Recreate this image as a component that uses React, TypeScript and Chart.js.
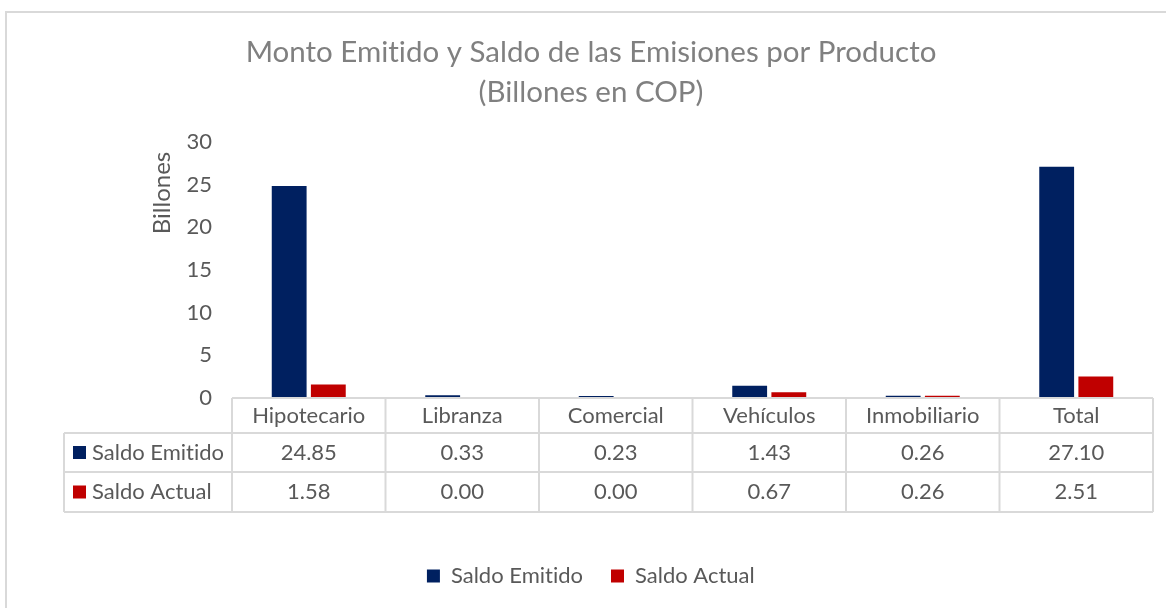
import React, { useEffect, useRef } from "react";
import { Chart, registerables } from "chart.js";

Chart.register(...registerables);

const categories = ["Hipotecario", "Libranza", "Comercial", "Vehículos", "Inmobiliario", "Total"];
const saldoEmitido = [24.85, 0.33, 0.23, 1.43, 0.26, 27.1];
const saldoActual = [1.58, 0.0, 0.0, 0.67, 0.26, 2.51];
const seriesNames = ["Saldo Emitido", "Saldo Actual"];
const seriesColors = ["#002060", "#C00000"];
const titleLines = ["Monto Emitido y Saldo de las Emisiones por Producto", "(Billones en COP)"];
const yAxisTitle = "Billones";

const FONT = "Lato, 'Open Sans', sans-serif";
const TEXT = "#595959";
const GRID = "#d9d9d9";
const FS = 22;

const bgPlugin = {
  id: "bg",
  beforeDraw(chart: any) {
    const { ctx, width, height } = chart;
    try {
      (ctx as any).textRendering = "optimizeSpeed";
    } catch (e) {}
    ctx.save();
    ctx.fillStyle = "#ffffff";
    ctx.fillRect(0, 0, width, height);
    ctx.strokeStyle = GRID;
    ctx.lineWidth = 2;
    ctx.strokeRect(6, 12, width + 20, height + 20);
    ctx.restore();
  },
};

const yTitlePlugin = {
  id: "yTitle",
  afterDraw(chart: any) {
    const { ctx } = chart;
    ctx.save();
    ctx.translate(162, 193);
    ctx.rotate(-Math.PI / 2);
    ctx.font = `24px ${FONT}`;
    ctx.fillStyle = TEXT;
    ctx.textAlign = "center";
    ctx.textBaseline = "middle";
    ctx.fillText(yAxisTitle, 0, 0);
    ctx.restore();
  },
};

const tablePlugin = {
  id: "dataTable",
  afterDatasetsDraw(chart: any) {
    const { ctx, chartArea, scales } = chart;
    const xs = scales.x;
    const n = categories.length;
    const left = chartArea.left;
    const right = chartArea.right;
    const colW = (right - left) / n;
    const top = chartArea.bottom;
    const rows = [top, top + 35, top + 74, top + 114];
    const labelLeft = 64;
    ctx.save();
    ctx.strokeStyle = GRID;
    ctx.lineWidth = 2;
    ctx.beginPath();
    ctx.moveTo(left, rows[0]);
    ctx.lineTo(right, rows[0]);
    for (let r = 1; r < rows.length; r++) {
      ctx.moveTo(labelLeft, rows[r]);
      ctx.lineTo(right, rows[r]);
    }
    ctx.moveTo(labelLeft, rows[1]);
    ctx.lineTo(labelLeft, rows[3]);
    for (let k = 0; k <= n; k++) {
      const x = left + k * colW;
      ctx.moveTo(x, rows[0]);
      ctx.lineTo(x, rows[3]);
    }
    ctx.stroke();

    ctx.font = `${FS}px ${FONT}`;
    ctx.fillStyle = TEXT;
    ctx.textAlign = "center";
    ctx.textBaseline = "middle";
    categories.forEach((c, i) => {
      const cx = xs.getPixelForValue(i);
      ctx.fillText(c, cx, (rows[0] + rows[1]) / 2);
    });
    const series = [saldoEmitido, saldoActual];
    series.forEach((vals, s) => {
      const cy = (rows[s + 1] + rows[s + 2]) / 2;
      vals.forEach((v, i) => {
        const cx = xs.getPixelForValue(i);
        ctx.fillStyle = TEXT;
        ctx.textAlign = "center";
        ctx.fillText(v.toFixed(2), cx, cy);
      });
      ctx.fillStyle = seriesColors[s];
      ctx.fillRect(73, cy - 6.5, 13, 13);
      ctx.fillStyle = TEXT;
      ctx.textAlign = "left";
      ctx.fillText(seriesNames[s], 92, cy);
    });
    ctx.restore();
  },
};

export default function App() {
  const ref = useRef<HTMLCanvasElement | null>(null);
  useEffect(() => {
    document.body.style.margin = "0";
    const canvas = ref.current;
    if (!canvas) return;
    const chart = new Chart(canvas, {
      type: "bar",
      data: {
        labels: categories,
        datasets: [
          {
            label: seriesNames[0],
            data: saldoEmitido,
            backgroundColor: seriesColors[0],
            categoryPercentage: 0.51,
            barPercentage: 0.89,
          },
          {
            label: seriesNames[1],
            data: saldoActual,
            backgroundColor: seriesColors[1],
            categoryPercentage: 0.51,
            barPercentage: 0.89,
          },
        ],
      },
      options: {
        responsive: false,
        animation: false,
        layout: { padding: { left: 29, right: 13, top: 12, bottom: 11 } },
        plugins: {
          title: {
            display: true,
            text: titleLines,
            color: "#808080",
            font: { family: FONT, size: 29.5, weight: "normal", lineHeight: 40 / 29.5 },
            padding: { top: 20, bottom: 30 },
          },
          legend: {
            display: true,
            position: "bottom",
            labels: {
              color: TEXT,
              font: { family: FONT, size: FS },
              boxWidth: 13,
              boxHeight: 13,
              padding: 28,
            },
          },
          tooltip: { enabled: false },
        },
        scales: {
          x: {
            grid: { display: false, drawTicks: false },
            border: { display: false },
            ticks: { display: false },
            afterFit: (scale: any) => {
              scale.height = 139;
            },
          },
          y: {
            min: 0,
            max: 30,
            grid: { display: false, drawTicks: false },
            border: { display: false },
            ticks: {
              stepSize: 5,
              color: TEXT,
              padding: 20,
              font: { family: FONT, size: FS },
            },
            afterFit: (scale: any) => {
              scale.width = 203;
            },
          },
        },
      },
      plugins: [bgPlugin, tablePlugin, yTitlePlugin],
    });
    return () => chart.destroy();
  }, []);
  return <canvas ref={ref} width={1166} height={608} style={{ display: "block" }} />;
}
